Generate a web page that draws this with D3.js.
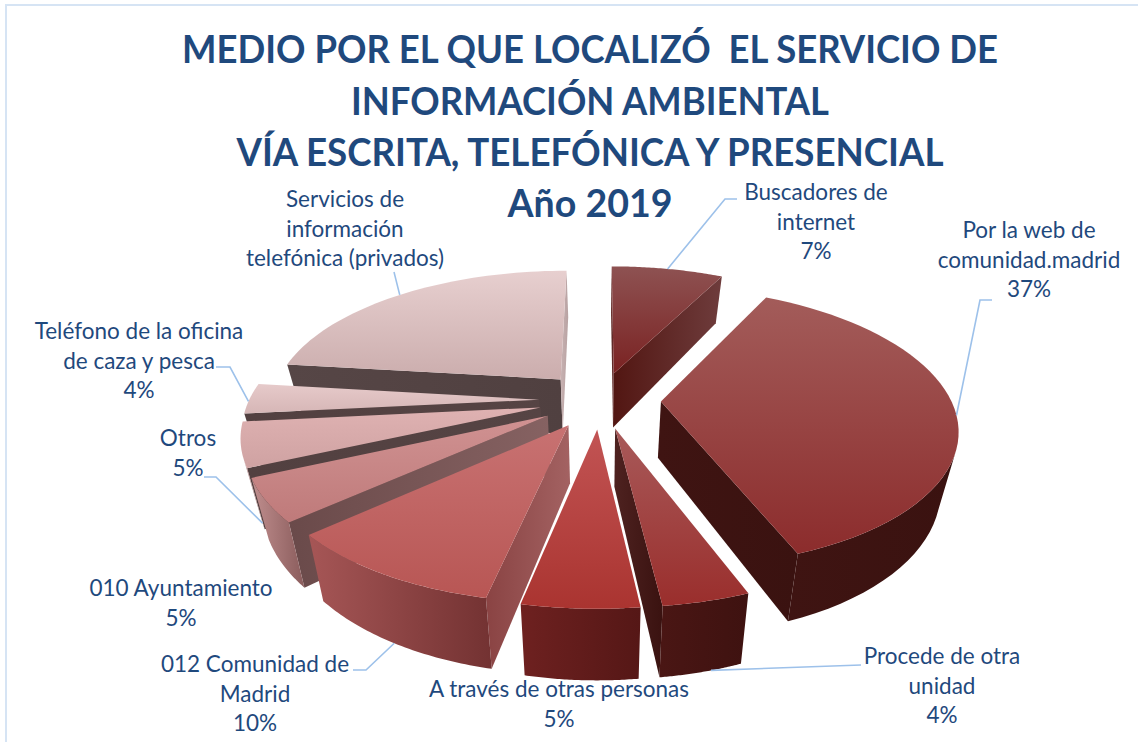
<!DOCTYPE html>
<html><head><meta charset="utf-8">
<style>html,body{margin:0;padding:0;background:#fff}svg{display:block}text{font-family:Lato,"Open Sans",sans-serif;fill:#1f497d}</style>
<script src="https://cdn.jsdelivr.net/npm/d3@7/dist/d3.min.js"></script>
</head><body><svg id="c" width="1138" height="742"></svg>
<script>
const titleLines = ["MEDIO POR EL QUE LOCALIZÓ  EL SERVICIO DE","INFORMACIÓN AMBIENTAL","VÍA ESCRITA, TELEFÓNICA Y PRESENCIAL","Año 2019"];
const categories = ["Buscadores de internet","Por la web de comunidad.madrid","Procede de otra unidad","A través de otras personas","012 Comunidad de Madrid","010 Ayuntamiento","Otros","Teléfono de la oficina de caza y pesca","Servicios de información telefónica (privados)"];
const values = [7.5,36.7,3.9,5.2,10.1,4.9,5.1,3.5,23.1];
const labelLines = [["Buscadores de","internet","7%"],["Por la web de","comunidad.madrid","37%"],["Procede de otra","unidad","4%"],["A través de otras personas","5%"],["012 Comunidad de","Madrid","10%"],["010 Ayuntamiento","5%"],["Otros","5%"],["Teléfono de la oficina","de caza y pesca","4%"],["Servicios de","información","telefónica (privados)"]];

// layout and style, separate from the data
const titleY=[63,115,166,217], titleW=[816,478,707,165];
const labelPos = [[816,200],[1029,238],[942,664],[559,697],[255,672],[181,596],[188,446],[139,339],[345,207]];
const leaders = [
 {i:0,f:.5,side:"top",from:[[737,199],[725,199]]},
 {i:1,f:.52,side:"top",from:[[992,300],[980,300]]},
 {i:2,f:.38,side:"bottom",from:[[861,665]]},
 {i:4,f:.5,side:"bottom",from:[[353,670],[366,670]]},
 {i:6,f:.12,side:"bottom",from:[[204,477],[216,477]]},
 {i:7,f:.4,side:"top",from:[[216,367],[230,367]]},
 {i:8,f:.5,side:"top",from:[[394,272]]}
];
const topGrad = [["#8e5252","#7a2222"],["#a35c5a","#8c2c2c"],["#a85a5a","#9a2e2c"],["#c25454","#aa3430"],["#c87272","#b85654"],["#d09292","#bf7a7a"],["#dfb2b2","#cfa2a2"],["#e6caca","#d6b6b6"],["#e7cfcf","#cbadad"]];
const wallGrad = [["#521612","#6e3c3c"],["#3f1412","#3a1210"],["#4a1614","#3e1210"],["#6e2120","#551716"],["#a65656","#733232"],["#c08e8e","#8a5c5c"],["#bd9696","#a88484"],["#b89a9a","#a88a8a"],["#a98f8f","#8f7777"]];
const sideGrad = [["#521612","#6e3c3c"],["#3f1412","#3a1210"],["#4e2220","#3a1210"],["#6e2120","#551716"],["#8a4343","#a36262"],["#6a4a4a","#866262"],["#524040","#564444"],["#524040","#564444"],["#564646","#504040"]];
const endSideGrad = [null,null,null,null,null,null,null,null,["#c8b2b2","#b8a2a2"]];
const P = {cx:600, cy:400, R:290, Ry:135, k:.18, e:.21, h:56, shrink:.95};

const svg = d3.select("#c");
const defs = svg.append("defs");
svg.append("path").attr("d", d3.line()([[6,750],[6,5],[1138,5]])).attr("fill","none").attr("stroke","#d6e4f4").attr("stroke-width",2);

const sx = a => Math.sin(a), cy_ = a => Math.cos(a);
const pie = d3.pie().sort(null).value(d=>d)(values);
const scale = Y => 1/(1+P.k*Y);
function proj(X,Y,bottom){
  const s = scale(Y);
  let x = P.cx + P.R*X*s, y = P.cy - P.Ry*Y*s;
  if(bottom){ x = P.cx + (x-P.cx)*P.shrink; y += P.h*s; }
  return [x,y];
}
function pt(d,a,bottom,apex){
  const m=(d.startAngle+d.endAngle)/2;
  const X=P.e*sx(m)+(apex?0:sx(a)), Y=P.e*cy_(m)+(apex?0:cy_(a));
  return proj(X,Y,bottom);
}
let gid=0;
function grad(c,vertical){
  const id="g"+(gid++);
  const g=defs.append("linearGradient").attr("id",id).attr("x1",0).attr("y1",0).attr("x2",vertical?0:1).attr("y2",vertical?1:0);
  g.append("stop").attr("offset",0).attr("stop-color",c[0]);
  g.append("stop").attr("offset",1).attr("stop-color",c[1]);
  return `url(#${id})`;
}
const line = d3.line();
const poly = pts => line(pts)+"Z";
const cross=(a,b,c)=>(b[0]-a[0])*(c[1]-a[1])-(b[1]-a[1])*(c[0]-a[0]);
function visible(a,b,a2,b2,inside){
  const off=[(a2[0]+b2[0]-a[0]-b[0])/2+(a[0]+b[0])/2,(a2[1]+b2[1]-a[1]-b[1])/2+(a[1]+b[1])/2];
  return cross(a,b,off)*cross(a,b,inside)<0;
}
const order = d3.range(values.length).sort((p,q)=>{
  const m=d=>(d.startAngle+d.endAngle)/2;
  return cy_(m(pie[q]))-cy_(m(pie[p]));
});
const N=48;
order.forEach(i=>{
  const d=pie[i], g=svg.append("g").attr("data-name",categories[i]);
  const angs=d3.range(N+1).map(t=>d.startAngle+(d.endAngle-d.startAngle)*t/N);
  const A=pt(d,0,false,true), A2=pt(d,0,true,true);
  const rim=angs.map(a=>pt(d,a)), rim2=angs.map(a=>pt(d,a,true));
  const inside=[(A[0]+rim[0][0]+rim[N][0])/3,(A[1]+rim[0][1]+rim[N][1])/3];
  // radial walls
  [0,N].forEach(t=>{
    if(visible(A,rim[t],A2,rim2[t],inside)){
      const c=(t===N&&endSideGrad[i])||sideGrad[i];
      g.append("path").attr("d",poly([A,rim[t],rim2[t],A2])).attr("fill",grad(c,false));
    }
  });
  // outer wall
  let run=[];
  const flush=()=>{
    if(run.length>1){
      const a=run.map(t=>rim[t]), b=run.map(t=>rim2[t]).reverse();
      g.append("path").attr("d",poly(a.concat(b))).attr("fill",grad(wallGrad[i],false));
    }
    run=[];
  };
  for(let t=0;t<N;t++){
    if(visible(rim[t],rim[t+1],rim2[t],rim2[t+1],A)){
      if(!run.length) run.push(t);
      run.push(t+1);
    } else flush();
  }
  flush();
  g.append("path").attr("d",poly([A].concat(rim))).attr("fill",grad(topGrad[i],true));
});

// leaders
leaders.forEach(l=>{
  const d=pie[l.i], a=d.startAngle+(d.endAngle-d.startAngle)*l.f;
  const end=pt(d,a,l.side==="bottom");
  svg.append("path").attr("d",line(l.from.concat([end]))).attr("fill","none").attr("stroke","#9dc1ea").attr("stroke-width",1.6);
});
// labels
labelLines.forEach((ls,i)=>{
  const t=svg.append("text").attr("text-anchor","middle").style("font-size","22.5px");
  ls.forEach((s,j)=>t.append("tspan").attr("x",labelPos[i][0]).attr("y",labelPos[i][1]+j*29.7).text(s));
});
// title
titleLines.forEach((s,i)=>svg.append("text").attr("x",590).attr("y",titleY[i]).attr("text-anchor","middle").attr("xml:space","preserve").attr("textLength",titleW[i]).attr("lengthAdjust","spacingAndGlyphs").style("white-space","pre").style("font-size","38px").style("font-weight",700).text(s));
</script></body></html>
